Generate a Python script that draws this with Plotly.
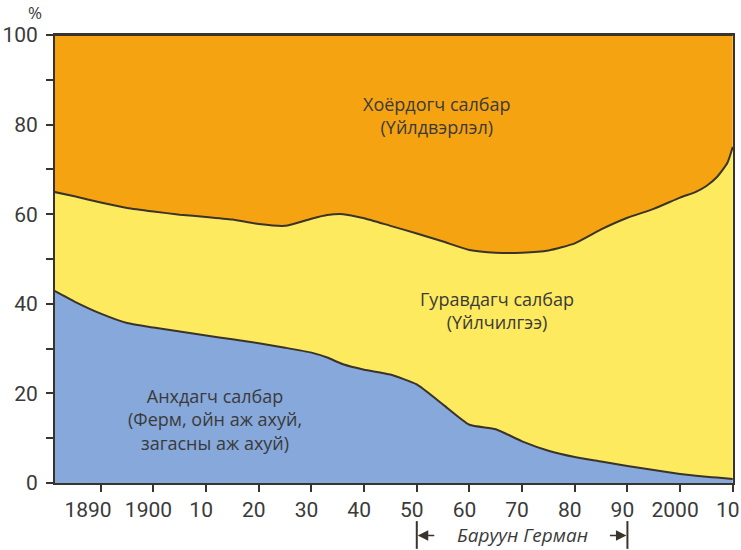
import plotly.graph_objects as go

# Эдийн засгийн салбаруудын ажил эрхлэлтийн хувь (%)
years = [1881, 1885, 1890, 1895, 1900, 1905, 1910, 1915, 1920, 1925, 1930,
         1933, 1936, 1940, 1945, 1950, 1955, 1960, 1965, 1970, 1975, 1980,
         1985, 1990, 1995, 2000, 2003, 2005, 2007, 2009, 2010]

primary = [43.0, 40.5, 37.8, 35.7, 34.7, 33.8, 32.9, 32.1, 31.2, 30.2, 29.1,
           28.0, 26.5, 25.3, 24.2, 22.0, 17.5, 13.0, 12.0, 9.3, 7.2, 5.8,
           4.8, 3.8, 2.9, 2.0, 1.6, 1.4, 1.2, 1.0, 0.9]

tertiary = [22.0, 23.5, 24.8, 25.7, 25.9, 26.1, 26.5, 26.7, 26.6, 27.2, 29.9,
            31.8, 33.5, 33.8, 33.2, 33.7, 36.4, 39.0, 39.4, 42.1, 44.7, 47.7,
            51.8, 55.4, 58.3, 61.7, 63.4, 64.9, 67.1, 70.5, 74.1]

secondary = [35.0, 36.0, 37.4, 38.6, 39.4, 40.1, 40.6, 41.2, 42.2, 42.6, 41.0,
             40.2, 40.0, 40.9, 42.6, 44.3, 46.1, 48.0, 48.6, 48.6, 48.1, 46.5,
             43.4, 40.8, 38.8, 36.3, 35.0, 33.7, 31.7, 28.5, 25.0]

x_ticks = [1890, 1900, 1910, 1920, 1930, 1940, 1950, 1960, 1970, 1980, 1990, 2000, 2010]
x_tick_text = ["1890" + "&nbsp;" * 3, "1900", "10", "20", "30", "40", "50",
               "60", "70", "80", "90", "2000", "10"]
y_ticks = [0, 10, 20, 30, 40, 50, 60, 70, 80, 90, 100]
y_tick_text = ["0", "", "20", "", "40", "", "60", "", "80", "", "100"]

LINE = "#3a332b"
TEXT = "#3a3a3a"
NARROW = "Liberation Sans Narrow, Roboto, sans-serif"
BODY = "Open Sans, sans-serif"

fig = go.Figure()
series = [
    ("Анхдагч", primary, "#87a8da"),
    ("Гуравдагч", tertiary, "#fdea5e"),
    ("Хоёрдогч", secondary, "#f5a311"),
]
for name, vals, color in series:
    fig.add_trace(go.Scatter(
        x=years, y=vals, name=name, stackgroup="one", mode="lines",
        line=dict(color=LINE, width=2, shape="spline", smoothing=0.5),
        fillcolor=color, hoverinfo="skip",
    ))

labels = [
    (1953.8, 82.0, "Хоёрдогч салбар<br>(Үйлдвэрлэл)"),
    (1965.2, 38.6, "Гуравдагч салбар<br>(Үйлчилгээ)"),
    (1911.6, 14.2, "Анхдагч салбар<br>(Ферм, ойн аж ахуй,<br>загасны аж ахуй)"),
]
for x, y, t in labels:
    fig.add_annotation(x=x, y=y, text=t, showarrow=False,
                       font=dict(family=BODY, size=18, color=TEXT))

# Баруун Германы үе (1950–1990)
west_start, west_end = 1950, 1990
for xv in (west_start, west_end):
    fig.add_shape(type="line", xref="x", yref="paper", x0=xv, x1=xv,
                  y0=-0.085, y1=-0.147, line=dict(color=LINE, width=2))
fig.add_annotation(x=west_start, y=-0.117, xref="x", yref="paper", text="",
                   showarrow=True, ax=19, ay=0, arrowhead=2, arrowsize=1.4,
                   arrowwidth=1.5, arrowcolor=LINE, standoff=1)
fig.add_annotation(x=west_end, y=-0.117, xref="x", yref="paper", text="",
                   showarrow=True, ax=-19, ay=0, arrowhead=2, arrowsize=1.4,
                   arrowwidth=1.5, arrowcolor=LINE, standoff=1)
fig.add_annotation(x=(west_start + west_end) / 2, y=-0.117, xref="x", yref="paper",
                   text="<i>Баруун Герман</i>", showarrow=False,
                   yanchor="middle",
                   font=dict(family=BODY, size=19, color=TEXT))

fig.add_annotation(x=-0.03, y=1.02, xref="paper", yref="paper", text="%",
                   showarrow=False, xanchor="center", yanchor="bottom",
                   font=dict(family=BODY, size=17, color=TEXT))

fig.update_xaxes(range=[1881.3, 2010.05], tickvals=x_ticks, ticktext=x_tick_text,
                 tickangle=0, ticklabelshift=-5,
                 ticks="outside", ticklen=7, tickwidth=2, tickcolor=LINE,
                 showline=True, linecolor=LINE, linewidth=2, mirror=True,
                 showgrid=False, zeroline=False, automargin=False,
                 ticklabeloverflow="allow",
                 tickfont=dict(family=NARROW, size=21, color=TEXT))
fig.update_yaxes(range=[0, 100], tickvals=y_ticks, ticktext=y_tick_text,
                 ticks="outside", ticklen=7, tickwidth=2, tickcolor=LINE,
                 showline=True, linecolor=LINE, linewidth=2, mirror=True,
                 showgrid=False, zeroline=False, ticklabelstandoff=4,
                 automargin=False,
                 tickfont=dict(family=NARROW, size=21, color=TEXT))

fig.update_layout(width=741, height=550, showlegend=False,
                  margin=dict(l=55, r=8, t=35, b=67),
                  plot_bgcolor="white", paper_bgcolor="white")

fig.write_html("out.html")
